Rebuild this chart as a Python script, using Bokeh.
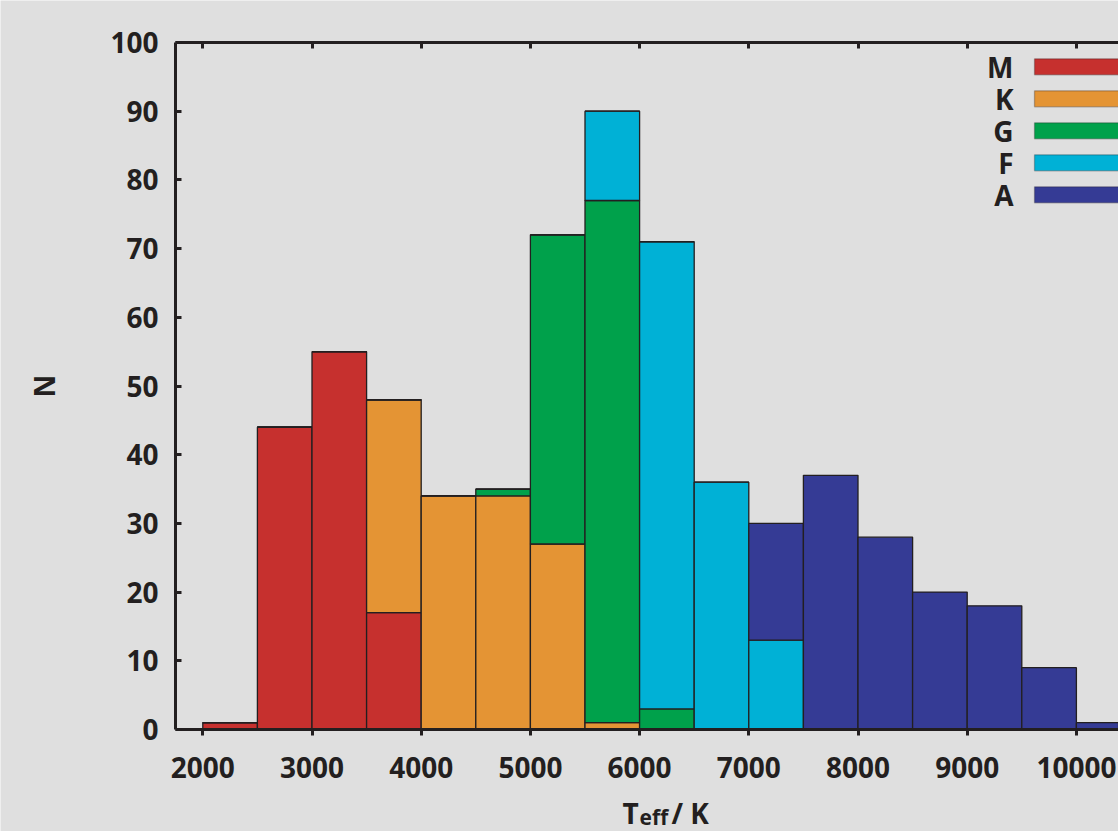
import math
from bokeh.plotting import figure
from bokeh.models import (LinearAxis, Label, BoxAnnotation, Range1d, FixedTicker,
                          CustomJSTickFormatter, ColumnDataSource)
from bokeh.embed import file_html
from bokeh.resources import INLINE

# ---- data ----
bin_left = [2000, 2500, 3000, 3500, 4000, 4500, 5000, 5500, 6000,
            6500, 7000, 7500, 8000, 8500, 9000, 9500, 10000]
bin_width = 500
classes = ["M", "K", "G", "F", "A"]
M = [1, 44, 55, 17, 0, 0, 0, 0, 0, 0, 0, 0, 0, 0, 0, 0, 0]
K = [0, 0, 0, 31, 34, 34, 27, 1, 0, 0, 0, 0, 0, 0, 0, 0, 0]
G = [0, 0, 0, 0, 0, 1, 45, 76, 3, 0, 0, 0, 0, 0, 0, 0, 0]
F = [0, 0, 0, 0, 0, 0, 0, 13, 68, 36, 13, 0, 0, 0, 0, 0, 0]
A = [0, 0, 0, 0, 0, 0, 0, 0, 0, 0, 17, 37, 28, 20, 18, 9, 1]
x_ticks = [2000, 3000, 4000, 5000, 6000, 7000, 8000, 9000, 10000]
y_ticks = [0, 10, 20, 30, 40, 50, 60, 70, 80, 90, 100]

colors = {"M": "#c6302e", "K": "#e49434", "G": "#00a14b", "F": "#00b1d6", "A": "#353b95"}
BG = "#dfdfdf"
INK = "#231f20"
FONT = "Open Sans"

W, H = 1118, 831
# axes box: T = 1750 K at x = 175 px, 109.2 px per 1000 K; N = 0 at y = 729 px, N = 100 at y = 42 px
X0, XPX = 1750, 0.1092
x_lo = X0 - 175 / XPX
x_hi = x_lo + W / XPX
YPX = (729 - 42) / 100
y_lo = -(H - 729) / YPX
y_hi = 100 + 42 / YPX

centers = [b + bin_width / 2 for b in bin_left]
src = ColumnDataSource(dict(x=centers, M=M, K=K, G=G, F=F, A=A))

p = figure(width=W, height=H, x_range=Range1d(x_lo, x_hi), y_range=Range1d(y_lo, y_hi),
           output_backend="svg", toolbar_location=None,
           min_border_left=0, min_border_right=0, min_border_top=0, min_border_bottom=0,
           background_fill_color=BG, border_fill_color=BG, outline_line_color=None)
p.grid.visible = False

p.vbar_stack(classes, x="x", width=bin_width, source=src,
             fill_color=[colors[c] for c in classes],
             line_color=INK, line_width=1.3)

def style_axis(ax):
    ax.axis_line_color = INK
    ax.axis_line_width = 3
    ax.major_tick_line_color = INK
    ax.major_tick_line_width = 3
    ax.minor_tick_line_color = None
    ax.major_label_text_font = FONT
    ax.major_label_text_font_style = "bold"
    ax.major_label_text_font_size = "28px"
    ax.major_label_text_color = INK

xa = p.xaxis[0]
style_axis(xa)
xa.fixed_location = 0
xa.bounds = (X0, x_hi)
xa.ticker = FixedTicker(ticks=x_ticks)
xa.major_tick_in = 0
xa.major_tick_out = 6
xa.major_label_standoff = 21

ya = p.yaxis[0]
style_axis(ya)
ya.fixed_location = X0
ya.bounds = (0, 100)
ya.ticker = FixedTicker(ticks=y_ticks)
ya.major_tick_in = 6
ya.major_tick_out = 0
ya.major_label_standoff = 17

top = LinearAxis(ticker=FixedTicker(ticks=x_ticks),
                 formatter=CustomJSTickFormatter(code="return ''"))
style_axis(top)
top.fixed_location = 100
top.bounds = (X0, x_hi)
top.major_tick_in = 6
top.major_tick_out = 0
top.major_label_standoff = 0
p.add_layout(top, "above")

def text_label(x, y, text, size, align="left", baseline="alphabetic", angle=0.0):
    p.add_layout(Label(x=x, y=y, x_units="screen", y_units="screen", text=text, angle=angle,
                       text_font=FONT, text_font_style="bold", text_font_size=size,
                       text_color=INK, text_baseline=baseline, text_align=align))

# y-axis title
text_label(43, H - 385.5, "N", "28px", align="center", baseline="middle", angle=math.pi / 2)

# x-axis title: T_eff / K
text_label(622, 19, "T", "28px")
text_label(639, 15, "eff", "21px")
text_label(671, 19, "/ K", "28px")

# legend (label left of swatch)
for i, c in enumerate(classes):
    yc = H - 66.3 - 32 * i
    text_label(1013, yc, c, "28px", align="right", baseline="middle")
    p.add_layout(BoxAnnotation(left=1034, right=1130, top=yc + 8, bottom=yc - 8,
                               left_units="screen", right_units="screen",
                               top_units="screen", bottom_units="screen",
                               fill_color=colors[c], fill_alpha=1.0,
                               line_color=INK, line_width=1.3))

open("out.html", "w").write(file_html(p, INLINE))
